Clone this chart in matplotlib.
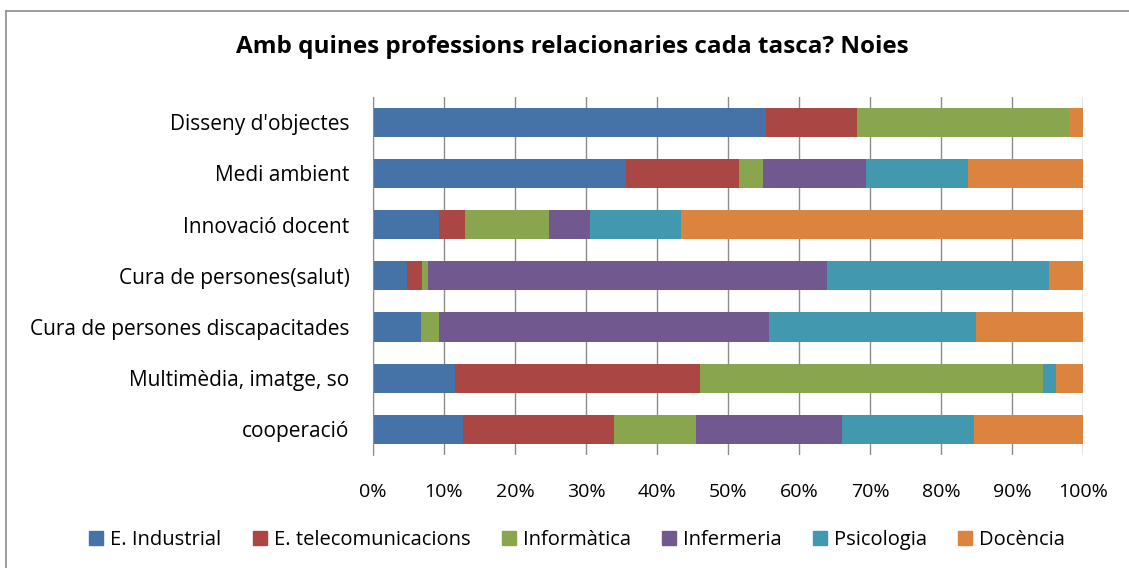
import numpy as np
import matplotlib.pyplot as plt
from matplotlib.lines import Line2D

plt.rcParams['font.family'] = ['Open Sans', 'DejaVu Sans']

categories = ["Disseny d'objectes", "Medi ambient", "Innovació docent",
              "Cura de persones(salut)", "Cura de persones discapacitades",
              "Multimèdia, imatge, so", "cooperació"]
series = ["E. Industrial", "E. telecomunicacions", "Informàtica",
          "Infermeria", "Psicologia", "Docència"]

industrial = [55.3, 35.6, 9.3, 4.8, 6.7, 11.5, 12.7]
telecom = [12.8, 15.9, 3.7, 2.1, 0.0, 34.5, 21.3]
informatica = [29.9, 3.4, 11.8, 0.8, 2.6, 48.4, 11.5]
infermeria = [0.0, 14.5, 5.8, 56.2, 46.5, 0.0, 20.5]
psicologia = [0.0, 14.4, 12.8, 31.3, 29.1, 1.8, 18.6]
docencia = [2.0, 16.2, 56.6, 4.8, 15.1, 3.8, 15.4]

colors = ['#4572A7', '#AA4643', '#89A54E', '#71588F', '#4198AF', '#DB843D']

fig = plt.figure(figsize=(11.29, 5.68), dpi=100)
ax = fig.add_axes([373/1129, 1-455/568, 710/1129, (455-96.5)/568])

y = np.arange(len(categories))
left = np.zeros(len(categories))
for vals, name, c in zip([industrial, telecom, informatica, infermeria, psicologia, docencia], series, colors):
    ax.barh(y, vals, left=left, height=0.57, color=c, label=name, zorder=3)
    left += np.array(vals)

ax.set_ylim(len(categories) - 0.5, -0.5)
ax.set_xlim(0, 100)
ax.set_xticks(np.arange(0, 101, 10))
ax.set_xticklabels([f"{v}%" for v in range(0, 101, 10)], fontsize=14)
ax.set_yticks(y)
ax.set_yticklabels(categories, fontsize=15)
ax.tick_params(axis='x', length=0, pad=20)
ax.tick_params(axis='y', length=0, pad=17)
ax.grid(axis='x', color='#8c8c8c', linewidth=1, zorder=0)
for s in ['top', 'right', 'bottom']:
    ax.spines[s].set_visible(False)
ax.spines['left'].set_color('#8c8c8c')
ax.spines['left'].set_zorder(4)

fig.text(0.507, 1-47/568, "Amb quines professions relacionaries cada tasca? Noies",
         ha='center', va='center', fontsize=17.5, fontweight='bold')

handles = [Line2D([], [], marker='s', linestyle='none', markersize=10,
                  markerfacecolor=c, markeredgecolor=c) for c in colors]
fig.legend(handles, series, loc='center', bbox_to_anchor=(0.509, 1-540/568),
           ncol=6, frameon=False, fontsize=14.5, handletextpad=0.1,
           columnspacing=1.3, handlelength=1.2)

fig.add_artist(Line2D([6/1129, 6/1129], [0, 1-11/568], color='#8c8c8c', lw=1.2))
fig.add_artist(Line2D([6/1129, 1], [1-11/568, 1-11/568], color='#8c8c8c', lw=1.2))

fig.savefig('out.png', dpi=100)
